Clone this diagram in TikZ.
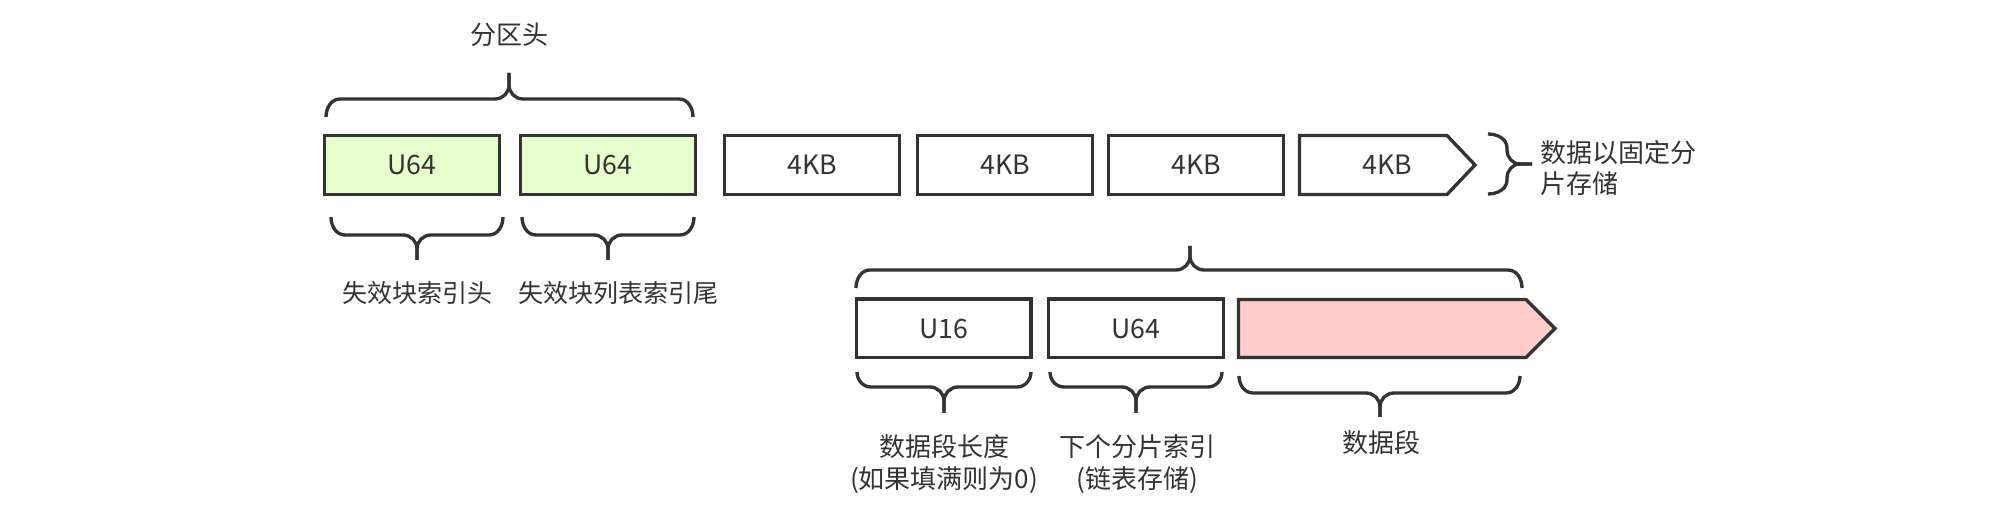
\documentclass[tikz,border=0pt]{standalone}
\usepackage{fontspec}
\setmainfont{Noto Sans CJK SC}
\definecolor{ink}{HTML}{333333}
\definecolor{greenfill}{HTML}{E6FFCC}
\definecolor{pinkfill}{HTML}{FFCCCC}
\tikzset{
  bracestyle/.style={draw=ink, line width=2.5pt, line cap=butt},
  box/.style={draw=ink, line width=2.5pt, line join=miter, minimum width=131pt, minimum height=44pt, inner sep=0pt, text=ink, font=\fontsize{20}{24}\selectfont},
  arrowbox/.style={draw=ink, line width=2.5pt, line join=miter},
  lbl/.style={inner sep=0pt, text=ink, font=\fontsize{18.75}{23.5}\selectfont},
  biglbl/.style={inner sep=0pt, text=ink, font=\fontsize{19.5}{23.5}\selectfont},
}
% horizontal brace, tip up: x1,x2,xc,YE,YH,YT
\newcommand\bracetipup[6]{%
  \draw[bracestyle] (#1,#4) to[out=90,in=180] (#1+14,#5) -- (#3-14,#5) to[out=0,in=-90] (#3,#5+14) -- (#3,#6);
  \draw[bracestyle] (#3,#6) -- (#3,#5+14) to[out=-90,in=180] (#3+14,#5) -- (#2-14,#5) to[out=0,in=90] (#2,#4);
}
% horizontal brace, tip down: x1,x2,xc,YE,YH,YT
\newcommand\bracetipdown[6]{%
  \draw[bracestyle] (#1,#4) to[out=-90,in=180] (#1+14,#5) -- (#3-14,#5) to[out=0,in=90] (#3,#5-14) -- (#3,#6);
  \draw[bracestyle] (#3,#6) -- (#3,#5-14) to[out=90,in=180] (#3+14,#5) -- (#2-14,#5) to[out=0,in=-90] (#2,#4);
}
\begin{document}
\begin{tikzpicture}[x=0.75pt,y=0.75pt]
\useasboundingbox (0,0) rectangle (2000,506);
\fill[white] (0,0) rectangle (2000,506);

% top row
\node[box,fill=greenfill] (h1) at (412,341) {\raisebox{-2pt}{U64}};
\node[box,fill=greenfill] (h2) at (608,341) {\raisebox{-2pt}{U64}};
\node[box] (k1) at (812,341) {\raisebox{-2pt}{4KB}};
\node[box] (k2) at (1005,341) {\raisebox{-2pt}{4KB}};
\node[box] (k3) at (1196,341) {\raisebox{-2pt}{4KB}};
\draw[arrowbox] (1299.5,311.5) -- (1447,311.5) -- (1475,341) -- (1447,370.5) -- (1299.5,370.5) -- cycle;
\node[box,draw=none,minimum width=0pt] (k4) at (1387,341) {\raisebox{-2pt}{4KB}};

% lower row
\node[box] (u16) at (943.5,177.5) {\raisebox{-2pt}{U16}};
\node[box] (u64) at (1136,177.5) {\raisebox{-2pt}{U64}};
\draw[arrowbox,fill=pinkfill] (1238.5,148.5) -- (1526,148.5) -- (1555,177.5) -- (1526,206.5) -- (1238.5,206.5) -- cycle;
\coordinate (seg) at (1390,177.5);

% braces
\bracetipup{326}{693}{509}{389}{407}{433}
\bracetipdown{331}{503}{417}{289}{271}{246}
\bracetipdown{522}{694}{608}{289}{271}{246}
\bracetipup{856}{1522}{1190}{218}{236}{260}
\bracetipdown{857}{1031}{944}{134}{119}{93}
\bracetipdown{1050}{1222}{1136}{134}{119}{93}
\bracetipdown{1239}{1520}{1380}{130}{113}{89}
% vertical brace right of the 4KB row
\draw[bracestyle] (1488,372) to[out=0,in=90] (1507,358) -- (1507,356) to[out=-90,in=180] (1520,342) -- (1532,342);
\draw[bracestyle] (1532,342) -- (1520,342) to[out=180,in=90] (1507,328) -- (1507,326) to[out=-90,in=0] (1488,312);

% labels
\node[biglbl] (t0) at (509,471) {分区头};
\node[lbl] (t1) at (417,213) {失效块索引头};
\node[lbl] (t2) at (618,213) {失效块列表索引尾};
\node[biglbl,align=left,anchor=west] (t3) at (1540,338) {数据以固定分\\片存储};
\node[biglbl,align=center] (t4) at (944,42) {数据段长度\\(如果填满则为0)};
\node[biglbl,align=center] (t5) at (1137,42) {下个分片索引\\(链表存储)};
\node[biglbl] (t6) at (1381,63) {数据段};
\end{tikzpicture}
\end{document}
